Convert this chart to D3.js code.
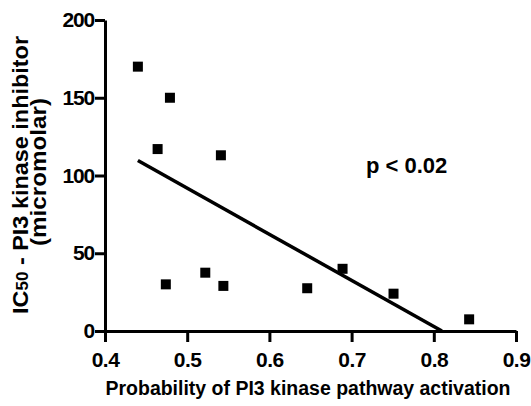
<!DOCTYPE html>
<html>
<head>
<meta charset="utf-8">
<script src="https://cdn.jsdelivr.net/npm/d3@7"></script>
<style>
    body { margin: 0; background: #fff; }
    svg { display: block; font-family: "Liberation Sans", Arial, sans-serif; font-weight: bold; }
</style>
</head>
<body>
<svg id="chart"></svg>
<script>
// значения
const probability = [0.440, 0.479, 0.464, 0.541, 0.474, 0.522, 0.544, 0.646, 0.689, 0.751, 0.843];
const ic50 = [170, 150, 117, 113, 30, 37.5, 29, 27.5, 40, 24, 7.5];
const xTicks = [0.4, 0.5, 0.6, 0.7, 0.8, 0.9];
const yTicks = [0, 50, 100, 150, 200];

const width = 531;
const height = 406;
let svg = d3.select("#chart").attr("width", width).attr("height", height);

let scX = d3.scaleLinear().domain([0.4, 0.9]).range([105, 516]);
let scY = d3.scaleLinear().domain([0, 200]).range([331, 20]);

// оси
let axisX = d3.axisBottom(scX).tickValues(xTicks).tickFormat(d3.format(".1f")).tickSize(11).tickSizeOuter(0);
let gx = svg.append("g").attr("transform", `translate(0, ${scY(0)})`).call(axisX);
gx.select(".domain").attr("stroke-width", 3);
gx.selectAll(".tick line").attr("stroke-width", 3);
gx.selectAll(".tick text")
    .attr("y", 21).attr("dy", "0.71em")
    .attr("font-size", 21).attr("font-weight", "bold")
    .attr("font-family", "Liberation Sans, Arial, sans-serif")
    .attr("letter-spacing", -0.5)
    .attr("fill", "#000");

let axisY = d3.axisLeft(scY).tickValues(yTicks).tickSize(10).tickSizeOuter(0).tickPadding(1);
let gy = svg.append("g").attr("transform", `translate(${scX(0.4)}, 0)`).call(axisY);
gy.select(".domain").attr("stroke-width", 3);
gy.selectAll(".tick line").attr("stroke-width", 3);
gy.selectAll(".tick text")
    .attr("font-size", 21).attr("font-weight", "bold")
    .attr("font-family", "Liberation Sans, Arial, sans-serif")
    .attr("letter-spacing", -1.2)
    .attr("fill", "#000");

// линейная регрессия
let mx = d3.mean(probability), my = d3.mean(ic50);
let sxy = d3.sum(probability, (x, i) => (x - mx) * (ic50[i] - my));
let sxx = d3.sum(probability, x => (x - mx) * (x - mx));
let slope = sxy / sxx;
let icpt = my - slope * mx;
let x0 = d3.min(probability);
let x1 = Math.min(d3.max(probability), -icpt / slope);
svg.append("line")
    .attr("x1", scX(x0)).attr("y1", scY(slope * x0 + icpt))
    .attr("x2", scX(x1)).attr("y2", scY(slope * x1 + icpt))
    .attr("stroke", "#000").attr("stroke-width", 3.5);

// точки
const sq = 10;
svg.selectAll(".pt")
    .data(probability)
    .enter()
    .append("rect")
    .attr("class", "pt")
    .attr("x", d => scX(d) - sq / 2)
    .attr("y", (d, i) => scY(ic50[i]) - sq / 2)
    .attr("width", sq)
    .attr("height", sq)
    .attr("fill", "#000");

// подписи
svg.append("text")
    .attr("x", 308).attr("y", 395)
    .attr("text-anchor", "middle")
    .attr("font-size", 19.5)
    .attr("textLength", 405).attr("lengthAdjust", "spacingAndGlyphs")
    .text("Probability of PI3 kinase pathway activation");

let yl = svg.append("text")
    .attr("transform", "translate(28, 175) rotate(-90)")
    .attr("text-anchor", "middle")
    .attr("font-size", 22)
    .attr("textLength", 278).attr("lengthAdjust", "spacingAndGlyphs");
yl.append("tspan").text("IC");
yl.append("tspan").attr("font-size", 16).text("50");
yl.append("tspan").text(" - PI3 kinase inhibitor");

svg.append("text")
    .attr("transform", "translate(46, 172) rotate(-90)")
    .attr("text-anchor", "middle")
    .attr("font-size", 22)
    .attr("textLength", 148).attr("lengthAdjust", "spacingAndGlyphs")
    .text("(micromolar)");

svg.append("text")
    .attr("x", 366).attr("y", 173)
    .attr("font-size", 22)
    .text("p < 0.02");
</script>
</body>
</html>
